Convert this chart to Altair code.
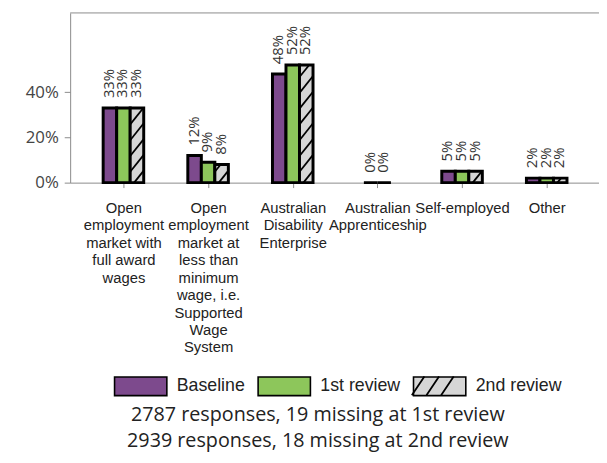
import json
import altair as alt
import pandas as pd

# ---------------- data ----------------
categories = [
    "Open employment market with full award wages",
    "Open employment market at less than minimum wage, i.e. Supported Wage System",
    "Australian Disability Enterprise",
    "Australian Apprenticeship",
    "Self-employed",
    "Other",
]
tick_labels = [
    ["Open", "employment", "market with", "full award", "wages"],
    ["Open", "employment", "market at", "less than", "minimum", "wage, i.e.", "Supported", "Wage", "System"],
    ["Australian", "Disability", "Enterprise"],
    ["Australian", "Apprenticeship"],
    ["Self-employed"],
    ["Other"],
]
series = ["Baseline", "1st review", "2nd review"]
baseline = [0.33, 0.12, 0.48, None, 0.05, 0.02]
first_review = [0.33, 0.09, 0.52, 0.00, 0.05, 0.02]
second_review = [0.33, 0.08, 0.52, 0.00, 0.05, 0.02]
colors = ["#7d4a8d", "#8dc65b", "#d6d6d6"]
notes = ["2787 responses, 19 missing at 1st review", "2939 responses, 18 missing at 2nd review"]

# ---------------- layout ----------------
W, H = 536, 172
PAD = {"left": 63, "top": 2, "right": 0, "bottom": 270}
STEP = 85.8          # px per category
X0 = -54 / STEP
X1 = X0 + W / STEP
YMAX = 0.75
BAR_PX = 13.7
BAR_U = BAR_PX / STEP
GRAY = "#8a8a8a"

# ---------------- derived tables ----------------
values_by_series = [baseline, first_review, second_review]
rows = []
for i in range(len(categories)):
    present = [(s, values_by_series[j][i]) for j, s in enumerate(series) if values_by_series[j][i] is not None]
    n = len(present)
    for k, (s, v) in enumerate(present):
        x = i + (k - n / 2) * BAR_U
        rows.append({"cat": categories[i], "series": s, "v": v, "x": x, "x2": x + BAR_U,
                     "xc": x + BAR_U / 2, "label": f"{round(v * 100)}%"})
bars_df = pd.DataFrame(rows)

# hatch lines for the "2nd review" bars
SLOPE, SPACING, C0 = 1.25, 16.0, -5.0
hatch = []
for r in rows:
    if r["series"] != "2nd review" or r["v"] <= 0:
        continue
    h = r["v"] * H / YMAX
    c = C0 - SPACING * 2
    while c < h:
        u0 = max(0.0, (0 - c) / SLOPE)
        u1 = min(BAR_PX, (h - c) / SLOPE)
        if u1 > u0 + 0.5:
            hatch.append({"series": r["series"],
                          "hx1": r["x"] + u0 / STEP, "hx2": r["x"] + u1 / STEP,
                          "hy1": (c + SLOPE * u0) * YMAX / H, "hy2": (c + SLOPE * u1) * YMAX / H})
        c += SPACING
hatch_df = pd.DataFrame(hatch)

notes_df = pd.DataFrame({"note": ["\n".join(notes)]})
frame_df = pd.DataFrame({"a": [0]})

rect_path = "M-1,-0.358H1V0.358H-1Z"
hatch_lines_path = "M-0.8,0.358L-0.32,-0.358M-0.24,0.358L0.24,-0.358M0.32,0.358L0.8,-0.358"

xscale = alt.Scale(domain=[X0, X1], nice=False, zero=False)
yscale = alt.Scale(domain=[0, YMAX], nice=False)

xaxis = alt.Axis(
    values=list(range(len(categories))), title=None, grid=False,
    labelExpr=f"{json.dumps(tick_labels)}[datum.value]",
    labelFont="Liberation Sans", labelFontSize=15, labelLineHeight=17.7, labelColor="#222222",
    labelBaseline="top", labelPadding=13, labelOverlap=False, labelFlush=False, labelLimit=0,
    tickSize=5, tickColor=GRAY, domainColor=GRAY,
)
yaxis = alt.Axis(
    values=[0, 0.2, 0.4], format=".0%", title=None, grid=False,
    labelFont="Open Sans", labelFontSize=17, labelColor="#444444", labelPadding=6,
    tickSize=6, tickColor=GRAY, domainColor=GRAY,
)

LEG_X, LEG_Y = 44, 350.5
HATCH_SWATCH_X = 340
fill_legend = alt.Legend(
    orient="none", legendX=LEG_X, legendY=LEG_Y, direction="horizontal", title=None,
    symbolType=rect_path, symbolSize=2809, symbolStrokeColor="black", symbolStrokeWidth=1.6,
    symbolOpacity=1, labelFont="Liberation Sans", labelFontSize=18, labelOffset=9,
    labelColor="#222222", columnPadding=8.5, padding=0,
)
hatch_legend = alt.Legend(
    orient="none", legendX=HATCH_SWATCH_X, legendY=LEG_Y, direction="horizontal", title=None,
    symbolType=hatch_lines_path, symbolSize=2809, symbolFillColor="transparent",
    symbolStrokeWidth=1.8, labelExpr="''", padding=0,
)

bars = alt.Chart(bars_df).mark_rect(stroke="black", strokeWidth=3).encode(
    x=alt.X("x:Q", scale=xscale, axis=xaxis),
    x2="x2:Q",
    y=alt.Y("v:Q", scale=yscale, axis=yaxis),
    y2=alt.datum(0),
    fill=alt.Fill("series:N", scale=alt.Scale(domain=series, range=colors), legend=fill_legend),
)

hatches = alt.Chart(hatch_df).mark_rule(strokeWidth=1.8).encode(
    x="hx1:Q", x2="hx2:Q", y="hy1:Q", y2="hy2:Q",
    stroke=alt.Stroke(
        "series:N",
        scale=alt.Scale(domain=[series[2]], range=["black"]),
        legend=hatch_legend,
    ),
)

labels = alt.Chart(bars_df).mark_text(
    angle=270, align="left", baseline="middle", dx=10, dy=-1,
    font="Open Sans", fontSize=15, color="#333333",
).encode(x="xc:Q", y="v:Q", text="label:N")

frame_top = alt.Chart(frame_df).mark_rule(color=GRAY, strokeWidth=1).encode(
    x=alt.value(0), x2=alt.value(W), y=alt.value(0),
)

notes_layer = alt.Chart(notes_df).mark_text(
    align="center", baseline="alphabetic", lineBreak="\n", lineHeight=26,
    font="Open Sans", fontSize=20, color="#222222",
).encode(x=alt.value(251), y=alt.value(414), text="note:N")

chart = alt.layer(frame_top, bars, hatches, labels, notes_layer).properties(
    width=W, height=H,
    autosize=alt.AutoSizeParams(type="none"),
    padding=PAD,
).configure_view(strokeWidth=0)

chart.save("out.html", embed_options={"renderer": "svg", "actions": False})
